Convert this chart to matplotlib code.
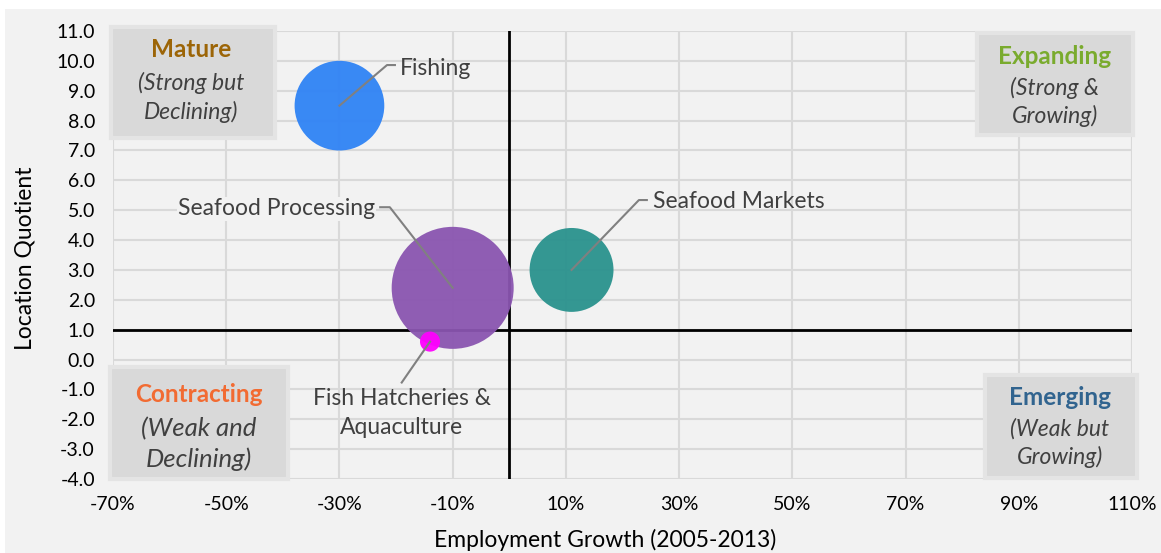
#!/usr/bin/env python3

import numpy as np
import matplotlib
matplotlib.use("Agg")
import matplotlib.pyplot as plt
from matplotlib.patches import Rectangle
from matplotlib.ticker import FuncFormatter

# Industry bubbles: employment growth (%), location quotient, relative employment
industries = ["Fishing", "Seafood Processing", "Seafood Markets",
              "Fish Hatcheries &\nAquaculture"]
growth = [-30, -10, 11, -14]
lq = [8.5, 2.4, 3.0, 0.6]
employment = [2000, 3700, 1750, 100]
colors = ["#2f83f5", "#8a55b0", "#2a928d", "#ff00ff"]

x_ticks = list(range(-70, 111, 20))
y_ticks = list(range(-4, 12))

plt.rcParams["font.family"] = ["Lato", "DejaVu Sans"]

fig = plt.figure(figsize=(11.61, 5.53), dpi=100, facecolor="#f2f2f2")
# white margin at the top and left, as in the original screenshot
fig.patches.append(Rectangle((0, 1 - 9 / 553), 1, 9 / 553, transform=fig.transFigure,
                             facecolor="white", edgecolor="none", zorder=-1))
fig.patches.append(Rectangle((0, 0), 5 / 1161, 1, transform=fig.transFigure,
                             facecolor="white", edgecolor="none", zorder=-1))

ax = fig.add_axes([113 / 1161, 1 - 479 / 553, 1019 / 1161, 448 / 553])
ax.set_facecolor("#f2f2f2")
ax.set_xlim(-70, 110)
ax.set_ylim(-4, 11)
ax.set_xticks(x_ticks)
ax.set_yticks(y_ticks)
ax.xaxis.set_major_formatter(FuncFormatter(lambda v, p: "%d%%" % v))
ax.yaxis.set_major_formatter(FuncFormatter(lambda v, p: "%.1f" % v))
ax.tick_params(length=0, labelsize=14)
ax.tick_params(axis="y", pad=13)
ax.tick_params(axis="x", pad=12)
ax.grid(True, color="#d9d9d9", linewidth=1.5, zorder=0)
ax.set_axisbelow(True)
for s in ax.spines.values():
    s.set_visible(False)

ax.axvline(0, color="black", linewidth=2, zorder=1)
ax.axhline(1, color="black", linewidth=2, zorder=1)

# bubble area proportional to employment; biggest has radius ~61px
r_px = 61 * np.sqrt(np.array(employment) / max(employment))
sizes = (2 * r_px * 0.72) ** 2
ax.scatter(growth, lq, s=sizes, c=colors, alpha=0.95, edgecolors="none", zorder=3)

# leader lines and labels
lab_col = "#404040"
line_col = "#808080"
lab_fs = 16.5
ax.plot([growth[0], -21.6, -20.2], [lq[0], 9.86, 9.86], color=line_col, lw=1.5, zorder=4)
ax.text(-19.3, 9.75, industries[0], fontsize=lab_fs, color=lab_col, va="center", ha="left")

ax.plot([growth[1], -21.1, -22.8], [lq[1], 5.1, 5.1], color=line_col, lw=1.5, zorder=4)
ax.text(-23.7, 5.05, industries[1], fontsize=lab_fs, color=lab_col, va="center", ha="right",
        bbox=dict(facecolor="#f2f2f2", edgecolor="none", pad=1))

ax.plot([growth[2], 22.9, 24.3], [lq[2], 5.34, 5.34], color=line_col, lw=1.5, zorder=4)
ax.text(25.3, 5.3, industries[2], fontsize=lab_fs, color=lab_col, va="center", ha="left")

ax.plot([growth[3], -19.0], [lq[3], -0.77], color=line_col, lw=1.5, zorder=4)
ax.text(-19.0, -0.95, industries[3], fontsize=lab_fs, color=lab_col, va="top", ha="center",
        linespacing=1.5)

# quadrant boxes
quadrants = [
    ((-0.002, 0.761), 0.161, 0.248, "Mature", "(Strong but\nDeclining)", "#9c6507",
     (0.077, 0.958), (0.077, 0.852), 16.5),
    ((0.848, 0.768), 0.153, 0.228, "Expanding", "(Strong &\nGrowing)", "#7aab2e",
     (0.924, 0.944), (0.924, 0.842), 16.5),
    ((-0.003, 0.0), 0.175, 0.25, "Contracting", "(Weak and\nDeclining)", "#f26b32",
     (0.084, 0.1875), (0.084, 0.078), 18.5),
    ((0.856, 0.002), 0.149, 0.23, "Emerging", "(Weak but\nGrowing)", "#31648f",
     (0.929, 0.181), (0.929, 0.080), 16.5),
]
for (xy, w, h, title, sub, tcol, tpos, spos, sfs) in quadrants:
    ax.add_patch(Rectangle(xy, w, h, transform=ax.transAxes, facecolor="#d9d9d9",
                           edgecolor="#e4e4e4", linewidth=3, clip_on=False, zorder=5))
    ax.text(*tpos, title, transform=ax.transAxes, fontsize=17.5, fontweight="bold",
            color=tcol, ha="center", va="center", zorder=6)
    ax.text(*spos, sub, transform=ax.transAxes, fontsize=sfs, style="italic",
            color=lab_col, ha="center", va="center", linespacing=1.35, zorder=6)

fig.text(605 / 1161, 1 - 540 / 553, "Employment Growth (2005-2013)", fontsize=16.5,
         ha="center", va="center")
fig.text(25 / 1161, 1 - 258 / 553, "Location Quotient", fontsize=16.5, rotation=90,
         ha="center", va="center")

fig.savefig("out.png", dpi=100, facecolor=fig.get_facecolor())
